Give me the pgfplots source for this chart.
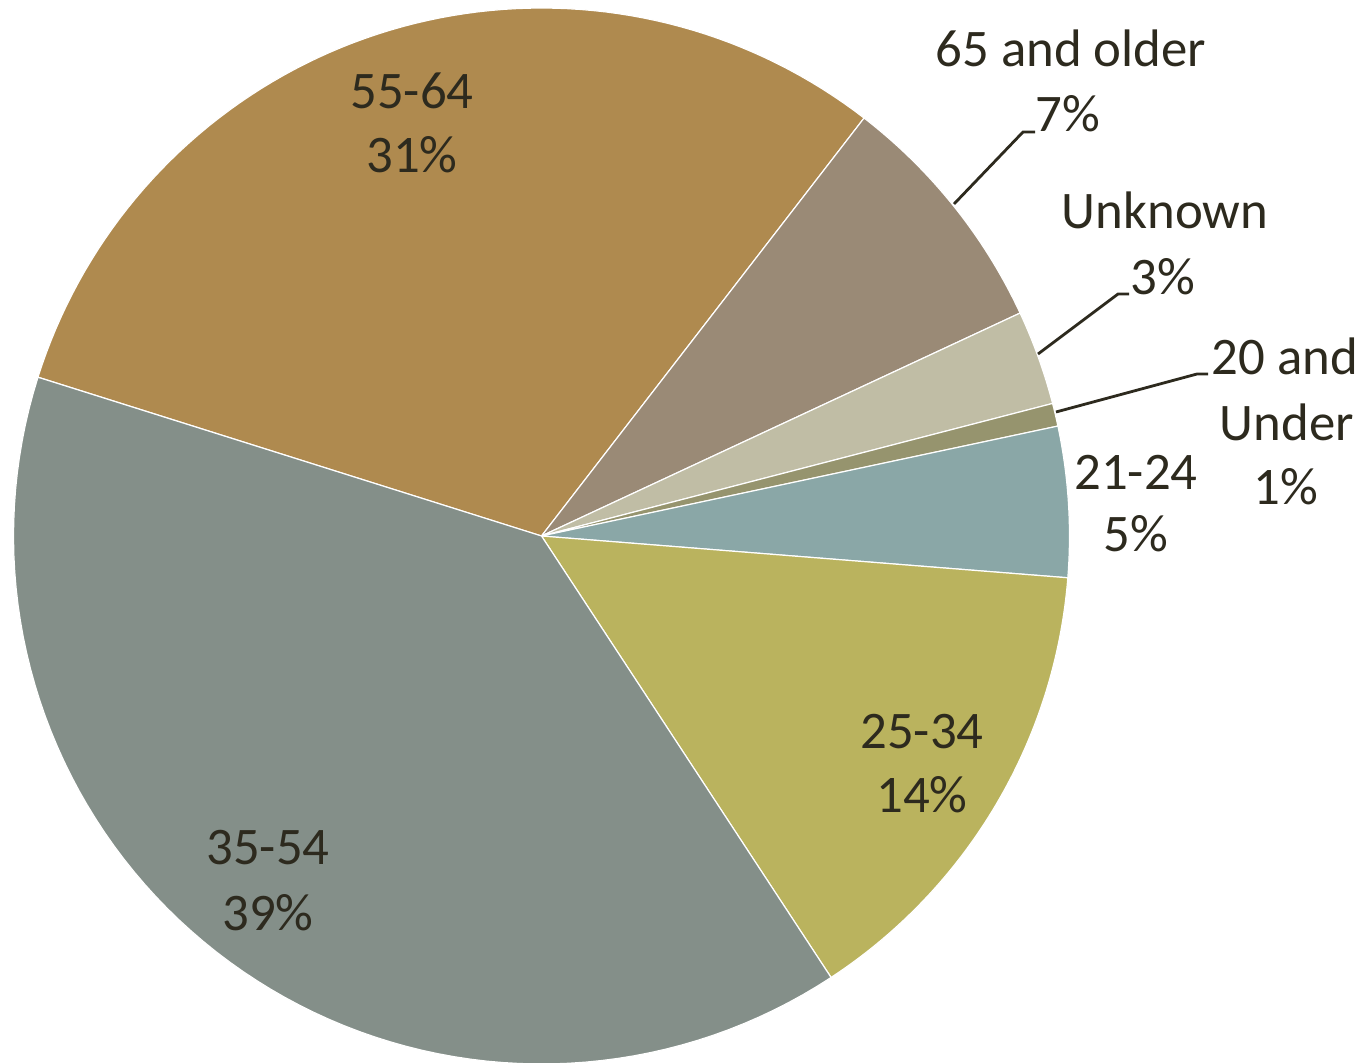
\documentclass[border=0pt]{standalone}
\usepackage{pgfplots}
\pgfplotsset{compat=1.18}
\usepackage{fontspec}
\setmainfont{Carlito}
\definecolor{cA}{HTML}{AF8A4F}
\definecolor{cB}{HTML}{9A8A76}
\definecolor{cC}{HTML}{C0BDA5}
\definecolor{cD}{HTML}{96946E}
\definecolor{cE}{HTML}{8AA7A7}
\definecolor{cF}{HTML}{BAB35E}
\definecolor{cG}{HTML}{848F89}
\definecolor{txt}{HTML}{2D2A1E}
% slice shares in percent (clockwise from 162.5 deg)
\newcommand{\cx}{541.5}
\newcommand{\cy}{526}
\newcommand{\rr}{528}
\newcommand{\slice}[3]{% start angle, percent, colour
  \pgfmathsetmacro{\sa}{#1}
  \pgfmathsetmacro{\ea}{#1-3.6*#2}
  \edef\temp{\noexpand\addplot[fill=#3, draw=white, line width=0.3pt, domain=\ea:\sa, samples=80, variable=\noexpand\t]
    ({\cx+\rr*cos(\noexpand\t)},{\cy+\rr*sin(\noexpand\t)}) -- (axis cs:\cx,\cy) -- cycle;}
  \temp
}
\begin{document}
\begin{tikzpicture}
\begin{axis}[
  width=343pt, height=265.5pt, scale only axis,
  xmin=0, xmax=1372, ymin=0, ymax=1062,
  hide axis,
]
\path (rel axis cs:0,0) rectangle (rel axis cs:1,1);
\slice{162.5}{30.6}{cA}
\slice{52.34}{7.6}{cB}
\slice{24.98}{2.9}{cC}
\slice{14.54}{0.7}{cD}
\slice{12.02}{4.6}{cE}
\slice{-4.54}{14.5}{cF}
\slice{-56.74}{39.1}{cG}
% leader lines
\draw[txt, line width=0.7pt] (axis cs:954,858) -- (axis cs:1023,930) -- (axis cs:1035,930);
\draw[txt, line width=0.7pt] (axis cs:1038,708) -- (axis cs:1118,768) -- (axis cs:1129,768);
\draw[txt, line width=0.7pt] (axis cs:1056,650) -- (axis cs:1197,688) -- (axis cs:1208,688);
% labels
\tikzset{lab/.style={anchor=base, text=txt, inner sep=0pt, font=\fontsize{13.2}{16}\selectfont}}
\node[lab] at (axis cs:412,953) {55-64};
\node[lab] at (axis cs:412,889) {31\%};
\node[lab] at (axis cs:1071,995) {65 and older};
\node[lab] at (axis cs:1068,930) {7\%};
\node[lab] at (axis cs:1165,833) {Unknown};
\node[lab] at (axis cs:1163,767) {3\%};
\node[lab] at (axis cs:1285,687) {20 and};
\node[lab] at (axis cs:1287,621) {Under};
\node[lab] at (axis cs:1286,557) {1\%};
\node[lab] at (axis cs:1136,572) {21-24};
\node[lab] at (axis cs:1136,510) {5\%};
\node[lab] at (axis cs:922,313) {25-34};
\node[lab] at (axis cs:922,249) {14\%};
\node[lab] at (axis cs:268,197) {35-54};
\node[lab] at (axis cs:268,132) {39\%};
\end{axis}
\end{tikzpicture}
\end{document}
